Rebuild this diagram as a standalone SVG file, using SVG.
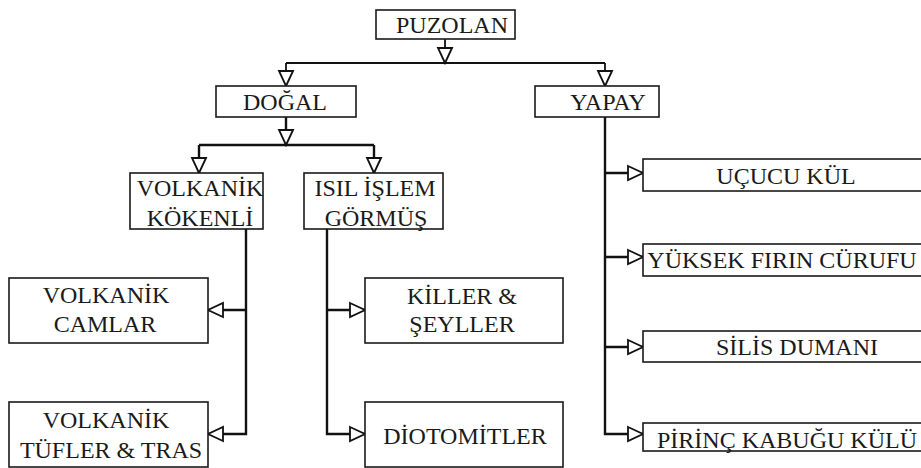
<svg xmlns="http://www.w3.org/2000/svg" width="921" height="468" viewBox="0 0 921 468">
<style>
.box{fill:#fff;stroke:#1a1a1a;stroke-width:1.6}
.t{font-family:'Liberation Serif','Times New Roman',serif;font-size:24px;fill:#1a1a1a;text-anchor:middle}
.c{fill:none;stroke:#111;stroke-width:2.4}
.c1{fill:none;stroke:#111;stroke-width:1.8}
</style>
<defs>
<marker id="ah" markerUnits="userSpaceOnUse" markerWidth="18" markerHeight="18" refX="15" refY="7" orient="auto" overflow="visible">
<path d="M0,0 L15,7 L0,14 Z" fill="#fff" stroke="#111" stroke-width="1.8" stroke-linejoin="miter"/>
</marker>
</defs>
<rect width="921" height="468" fill="#fff"/>
<g id="connectors">
<path class="c1" d="M445,39 V63" marker-end="url(#ah)"/>
<path class="c1" d="M286,63 H605"/>
<path class="c1" d="M286,63 V86" marker-end="url(#ah)"/>
<path class="c1" d="M605,63 V86" marker-end="url(#ah)"/>
<path class="c" d="M286,117 V145" marker-end="url(#ah)"/>
<path class="c" d="M199,145 H374"/>
<path class="c" d="M199,145 V173" marker-end="url(#ah)"/>
<path class="c" d="M374,145 V173" marker-end="url(#ah)"/>
<path class="c" d="M246,229 V434 H208" marker-end="url(#ah)"/>
<path class="c" d="M246,310 H208" marker-end="url(#ah)"/>
<path class="c" d="M327,229 V434 H365" marker-end="url(#ah)"/>
<path class="c" d="M327,310 H365" marker-end="url(#ah)"/>
<path class="c" d="M605,117 V434 H643" marker-end="url(#ah)"/>
<path class="c" d="M605,173 H643" marker-end="url(#ah)"/>
<path class="c" d="M605,257 H643" marker-end="url(#ah)"/>
<path class="c" d="M605,347 H643" marker-end="url(#ah)"/>
</g>
<g id="puzolan"><rect class="box" x="376" y="10" width="139" height="29"/><text class="t" x="452" y="33">PUZOLAN</text></g>
<g id="dogal"><rect class="box" x="216" y="86" width="140" height="31"/><text class="t" x="285" y="110">DOĞAL</text></g>
<g id="yapay"><rect class="box" x="535" y="86" width="124" height="31"/><text class="t" x="608" y="110">YAPAY</text></g>
<g id="volkanik-kokenli"><rect class="box" x="130" y="173" width="133" height="56"/><text class="t" x="200" y="196">VOLKANİK</text><text class="t" x="200" y="226">KÖKENLİ</text></g>
<g id="isil-islem"><rect class="box" x="304" y="173" width="139" height="56"/><text class="t" x="375" y="196">ISIL İŞLEM</text><text class="t" x="376" y="226">GÖRMÜŞ</text></g>
<g id="volkanik-camlar"><rect class="box" x="9" y="278" width="199" height="65"/><text class="t" x="106" y="303">VOLKANİK</text><text class="t" x="105" y="332">CAMLAR</text></g>
<g id="volkanik-tufler"><rect class="box" x="9" y="402" width="199" height="65"/><text class="t" x="106" y="428">VOLKANİK</text><text class="t" x="111" y="458">TÜFLER &amp; TRAS</text></g>
<g id="killer"><rect class="box" x="365" y="278" width="198" height="65"/><text class="t" x="462" y="304">KİLLER &amp;</text><text class="t" x="462" y="332">ŞEYLLER</text></g>
<g id="diotomitler"><rect class="box" x="365" y="402" width="198" height="65"/><text class="t" x="465" y="444">DİOTOMİTLER</text></g>
<g id="ucucu-kul"><rect class="box" x="643" y="159" width="285" height="32"/><text class="t" x="786" y="184">UÇUCU KÜL</text></g>
<g id="yuksek-firin"><rect class="box" x="643" y="244" width="285" height="32"/><text class="t" x="782" y="268">YÜKSEK FIRIN CÜRUFU</text></g>
<g id="silis-dumani"><rect class="box" x="643" y="331" width="285" height="31"/><text class="t" x="797" y="355">SİLİS DUMANI</text></g>
<g id="pirinc"><rect class="box" x="643" y="423" width="285" height="28"/><text class="t" x="787" y="448">PİRİNÇ KABUĞU KÜLÜ</text></g>
</svg>
